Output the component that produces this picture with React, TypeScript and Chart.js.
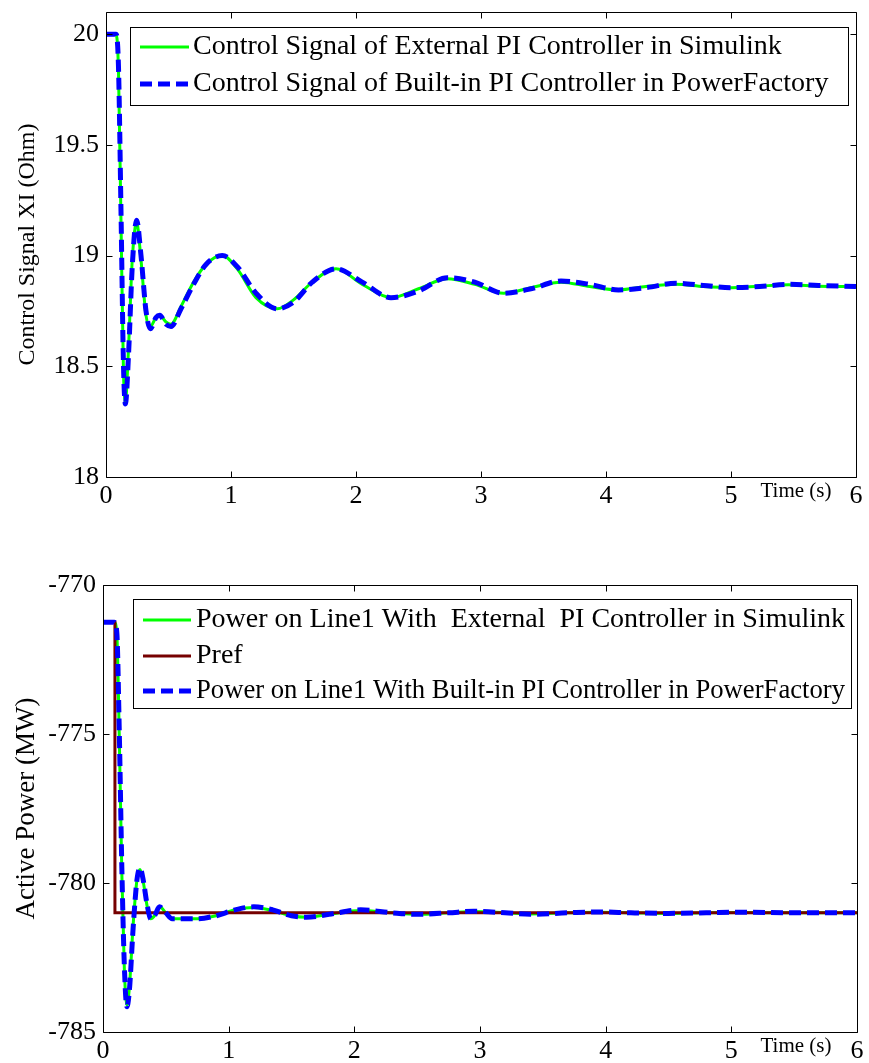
import React, { useEffect, useRef } from "react";
import { Chart, registerables } from "chart.js";

Chart.register(...registerables);

const FONT = '"Liberation Serif", "Times New Roman", serif';

// ---------- Top plot data ----------
const timeTop = [0, 0.08, 0.1, 0.12, 0.14, 0.155, 0.18, 0.21, 0.245, 0.28, 0.32, 0.355, 0.4, 0.43, 0.48, 0.52, 0.6, 0.7, 0.8, 0.93, 1.05, 1.2, 1.37, 1.5, 1.65, 1.84, 2.05, 2.28, 2.5, 2.73, 2.95, 3.18, 3.4, 3.64, 3.87, 4.1, 4.32, 4.56, 4.78, 5.0, 5.23, 5.46, 5.7, 6.0];
const xiPowerFactory = [20, 20, 19.85, 19.2, 18.5, 18.33, 18.55, 18.95, 19.16, 19.0, 18.75, 18.67, 18.72, 18.73, 18.69, 18.68, 18.76, 18.87, 18.96, 19.0, 18.95, 18.83, 18.76, 18.79, 18.88, 18.94, 18.88, 18.81, 18.84, 18.9, 18.88, 18.83, 18.85, 18.885, 18.87, 18.845, 18.855, 18.875, 18.865, 18.855, 18.86, 18.87, 18.865, 18.86];
const xiSimulink = [20, 20, 19.83, 19.15, 18.47, 18.34, 18.58, 18.98, 19.15, 18.98, 18.73, 18.68, 18.72, 18.73, 18.7, 18.69, 18.77, 18.88, 18.96, 19.0, 18.94, 18.81, 18.76, 18.8, 18.88, 18.94, 18.87, 18.81, 18.85, 18.895, 18.87, 18.83, 18.855, 18.88, 18.86, 18.845, 18.86, 18.87, 18.86, 18.855, 18.862, 18.868, 18.862, 18.86];
const xTicks = [0, 1, 2, 3, 4, 5, 6];
const yTicksTop = [18, 18.5, 19, 19.5, 20];
const topLabels = [
  "Control Signal of External PI Controller in Simulink",
  "Control Signal of Built-in PI Controller in PowerFactory",
];

// ---------- Bottom plot data ----------
const timeBot = [0, 0.09, 0.11, 0.13, 0.15, 0.17, 0.19, 0.21, 0.24, 0.27, 0.295, 0.32, 0.35, 0.38, 0.41, 0.45, 0.5, 0.55, 0.62, 0.75, 0.9, 1.05, 1.2, 1.35, 1.5, 1.62, 1.8, 2.05, 2.3, 2.5, 2.75, 2.95, 3.2, 3.4, 3.7, 3.95, 4.2, 4.5, 4.8, 5.1, 5.5, 6.0];
const powerPowerFactory = [-771.25, -771.25, -771.6, -775, -779.5, -782.8, -784.15, -783.6, -781.5, -779.9, -779.5, -779.9, -780.7, -781.2, -781.1, -780.8, -781.0, -781.2, -781.2, -781.2, -781.1, -780.9, -780.8, -780.9, -781.1, -781.15, -781.05, -780.9, -781.0, -781.05, -781.0, -780.95, -781.0, -781.05, -781.0, -780.97, -781.0, -781.02, -781.0, -780.98, -781.0, -781.0];
const powerSimulink = [-771.25, -771.25, -771.65, -775.2, -779.7, -782.9, -784.1, -783.5, -781.4, -779.9, -779.55, -779.95, -780.75, -781.2, -781.1, -780.8, -781.0, -781.2, -781.2, -781.2, -781.1, -780.9, -780.82, -780.92, -781.1, -781.15, -781.05, -780.92, -781.0, -781.05, -781.0, -780.96, -781.0, -781.04, -781.0, -780.98, -781.0, -781.02, -781.0, -780.99, -781.0, -781.0];
const timePref = [0, 0.095, 0.095, 6];
const pref = [-771.25, -771.25, -781, -781];
const yTicksBot = [-785, -780, -775, -770];
const botLabels = [
  "Power on Line1 With  External  PI Controller in Simulink",
  "Pref",
  "Power on Line1 With Built-in PI Controller in PowerFactory",
];

const GREEN = "#00ff00";
const BLUE = "#0000ff";
const MAROON = "#760000";
const DASH = [12, 6];

const toXY = (xs: number[], ys: number[]) => xs.map((x, i) => ({ x, y: ys[i] }));

const matlabPlugin = {
  id: "matlab",
  afterDraw(chart: any, _args: any, opts: any) {
    const { ctx, chartArea: a, scales } = chart;
    ctx.save();
    ctx.strokeStyle = "#000";
    ctx.lineWidth = 1;
    const L = Math.round(a.left) + 0.5;
    const R = Math.round(a.right) + 0.5;
    const T = Math.round(a.top) + 0.5;
    const B = Math.round(a.bottom) + 0.5;
    ctx.beginPath();
    ctx.rect(L, T, R - L, B - T);
    const tl = 6;
    scales.x.ticks.forEach((t: any) => {
      const px = Math.round(scales.x.getPixelForValue(t.value)) + 0.5;
      ctx.moveTo(px, B);
      ctx.lineTo(px, B - tl);
      ctx.moveTo(px, T);
      ctx.lineTo(px, T + tl);
    });
    scales.y.ticks.forEach((t: any) => {
      const py = Math.round(scales.y.getPixelForValue(t.value)) + 0.5;
      ctx.moveTo(L, py);
      ctx.lineTo(L + tl, py);
      ctx.moveTo(R, py);
      ctx.lineTo(R - tl, py);
    });
    ctx.stroke();

    // legend
    const lg = opts.legend;
    if (lg) {
      const [bl, bt, br, bb] = lg.box;
      ctx.fillStyle = "#fff";
      ctx.fillRect(bl, bt, br - bl, bb - bt);
      ctx.strokeStyle = "#000";
      ctx.lineWidth = 1;
      ctx.strokeRect(bl + 0.5, bt + 0.5, br - bl, bb - bt);
      ctx.font = lg.font;
      ctx.textBaseline = "middle";
      ctx.textAlign = "left";
      const maxW = br - lg.textX - 6;
      lg.rows.forEach((ry: number, i: number) => {
        const ds = chart.data.datasets[i];
        ctx.save();
        ctx.strokeStyle = ds.borderColor;
        ctx.lineWidth = ds.borderWidth;
        ctx.setLineDash(ds.borderDash || []);
        ctx.beginPath();
        ctx.moveTo(lg.lineX[0], ry);
        ctx.lineTo(lg.lineX[1], ry);
        ctx.stroke();
        ctx.restore();
        ctx.fillStyle = "#000";
        ctx.fillText(ds.label, lg.textX, ry, maxW);
      });
    }

    // x-axis label near the axis
    const tlb = opts.timeLabel;
    if (tlb) {
      ctx.font = tlb.font;
      ctx.fillStyle = "#000";
      ctx.textAlign = "center";
      ctx.textBaseline = "middle";
      ctx.fillText(tlb.text, tlb.x, a.bottom + tlb.dy);
    }
    ctx.restore();
  },
};

function makeOptions(cfg: any) {
  return {
    responsive: false,
    animation: false,
    layout: { padding: { top: cfg.top, right: cfg.right, left: 0, bottom: 0 } },
    elements: { point: { radius: 0 } },
    plugins: {
      legend: { display: false },
      tooltip: { enabled: false },
      matlab: { legend: cfg.legend, timeLabel: cfg.timeLabel },
    },
    scales: {
      x: {
        type: "linear",
        min: 0,
        max: 6,
        grid: { display: false, drawTicks: false },
        border: { display: false },
        afterBuildTicks: (s: any) => {
          s.ticks = xTicks.map((v) => ({ value: v }));
        },
        afterFit: (s: any) => {
          s.height = cfg.xHeight;
          s.paddingLeft = 0;
          s.paddingRight = 0;
        },
        ticks: {
          autoSkip: false,
          maxRotation: 0,
          padding: 4,
          color: "#000",
          font: { family: FONT, size: 26 },
          callback: (v: any) => String(v),
        },
      },
      y: {
        type: "linear",
        min: cfg.yMin,
        max: cfg.yMax,
        grid: { display: false, drawTicks: false },
        border: { display: false },
        afterBuildTicks: (s: any) => {
          s.ticks = cfg.yTicks.map((v: number) => ({ value: v }));
        },
        afterFit: (s: any) => {
          s.width = cfg.yWidth;
          s.paddingTop = 0;
          s.paddingBottom = 0;
        },
        ticks: {
          autoSkip: false,
          padding: 7,
          color: "#000",
          font: { family: FONT, size: 26 },
          callback: (v: any) => String(v),
        },
        title: {
          display: true,
          text: cfg.yTitle,
          color: "#000",
          font: { family: FONT, size: cfg.yTitleSize },
          padding: { top: cfg.yTitlePad, bottom: 0 },
        },
      },
    },
  };
}

export default function App() {
  const topRef = useRef<HTMLCanvasElement>(null);
  const botRef = useRef<HTMLCanvasElement>(null);

  useEffect(() => {
    const top = new Chart(topRef.current as HTMLCanvasElement, {
      type: "line",
      data: {
        datasets: [
          {
            label: topLabels[0],
            data: toXY(timeTop, xiSimulink),
            borderColor: GREEN,
            borderWidth: 3,
            cubicInterpolationMode: "monotone",
            order: 1,
          },
          {
            label: topLabels[1],
            data: toXY(timeTop, xiPowerFactory),
            borderColor: BLUE,
            borderWidth: 5,
            borderDash: DASH,
            cubicInterpolationMode: "monotone",
            order: 0,
          },
        ],
      } as any,
      options: makeOptions({
        top: 12,
        right: 13,
        xHeight: 43,
        yWidth: 106,
        yMin: 18,
        yMax: 20.1,
        yTicks: yTicksTop,
        yTitle: "Control Signal XI (Ohm)",
        yTitleSize: 24,
        yTitlePad: 13,
        legend: {
          box: [130, 27, 848, 105],
          rows: [47, 84],
          lineX: [140, 189],
          textX: 193,
          font: `28px ${FONT}`,
        },
        timeLabel: { text: "Time (s)", x: 796, dy: 14, font: `21px ${FONT}` },
      }) as any,
      plugins: [matlabPlugin],
    });

    const bot = new Chart(botRef.current as HTMLCanvasElement, {
      type: "line",
      data: {
        datasets: [
          {
            label: botLabels[0],
            data: toXY(timeBot, powerSimulink),
            borderColor: GREEN,
            borderWidth: 3,
            cubicInterpolationMode: "monotone",
            order: 2,
          },
          {
            label: botLabels[1],
            data: toXY(timePref, pref),
            borderColor: MAROON,
            borderWidth: 3,
            tension: 0,
            order: 1,
          },
          {
            label: botLabels[2],
            data: toXY(timeBot, powerPowerFactory),
            borderColor: BLUE,
            borderWidth: 5,
            borderDash: DASH,
            cubicInterpolationMode: "monotone",
            order: 0,
          },
        ],
      } as any,
      options: makeOptions({
        top: 65,
        right: 12,
        xHeight: 31,
        yWidth: 103,
        yMin: -785,
        yMax: -770,
        yTicks: yTicksBot,
        yTitle: "Active Power (MW)",
        yTitleSize: 27,
        yTitlePad: 11,
        legend: {
          box: [133, 79, 851, 188],
          rows: [100, 136, 171],
          lineX: [143, 191],
          textX: 196,
          font: `28px ${FONT}`,
        },
        timeLabel: { text: "Time (s)", x: 796, dy: 14, font: `21px ${FONT}` },
      }) as any,
      plugins: [matlabPlugin],
    });

    return () => {
      top.destroy();
      bot.destroy();
    };
  }, []);

  return (
    <div style={{ position: "fixed", left: 0, top: 0, width: 869, height: 1063, background: "#fff" }}>
      <canvas ref={topRef} width={869} height={520} style={{ position: "absolute", left: 0, top: 0 }} />
      <canvas ref={botRef} width={869} height={543} style={{ position: "absolute", left: 0, top: 520 }} />
    </div>
  );
}
